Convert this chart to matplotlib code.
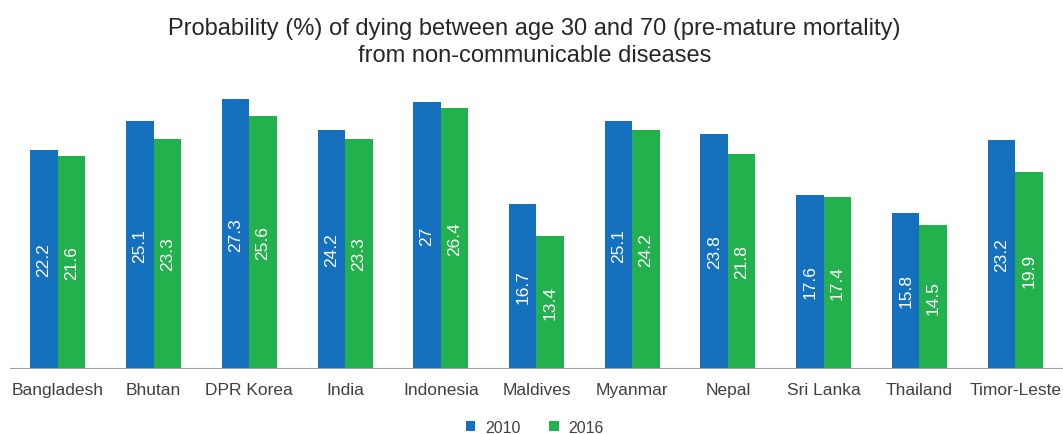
import matplotlib.pyplot as plt
import numpy as np

plt.rcParams['font.family'] = ['Liberation Sans', 'DejaVu Sans']

countries = ['Bangladesh', 'Bhutan', 'DPR Korea', 'India', 'Indonesia', 'Maldives',
             'Myanmar', 'Nepal', 'Sri Lanka', 'Thailand', 'Timor-Leste']
y2010 = [22.2, 25.1, 27.3, 24.2, 27, 16.7, 25.1, 23.8, 17.6, 15.8, 23.2]
y2016 = [21.6, 23.3, 25.6, 23.3, 26.4, 13.4, 24.2, 21.8, 17.4, 14.5, 19.9]
labels2010 = ['22.2', '25.1', '27.3', '24.2', '27', '16.7', '25.1', '23.8', '17.6', '15.8', '23.2']
labels2016 = ['21.6', '23.3', '25.6', '23.3', '26.4', '13.4', '24.2', '21.8', '17.4', '14.5', '19.9']

blue = '#1570BE'
green = '#22B14C'
txt = '#404040'

fig = plt.figure(figsize=(10.63, 4.35), dpi=100)
ax = fig.add_axes([0.0094, 0.152, 0.9906, 0.678])

x = np.arange(len(countries))
w = 0.287
b1 = ax.bar(x - w / 2, y2010, w, color=blue, label='2010')
b2 = ax.bar(x + w / 2, y2016, w, color=green, label='2016')

# value labels, rotated, in the middle of each bar
for bars, labs in [(b1, labels2010), (b2, labels2016)]:
    for r, lab in zip(bars, labs):
        ax.text(r.get_x() + r.get_width() / 2, r.get_height() / 2, lab,
                rotation=90, ha='center', va='center', color='white', fontsize=12.5)

ax.set_xlim(-0.5, len(countries) - 0.5)
ax.set_ylim(0, 30)
ax.set_xticks(x)
ax.set_xticklabels(countries, fontsize=12.5, color=txt)
ax.tick_params(axis='x', length=0, pad=10)
ax.set_yticks([])
for s in ['top', 'right', 'left']:
    ax.spines[s].set_visible(False)
ax.spines['bottom'].set_color('#A0A0A0')

fig.suptitle('Probability (%) of dying between age 30 and 70 (pre-mature mortality)\nfrom non-communicable diseases',
             x=0.503, y=0.958, fontsize=17, color='#262626', linespacing=1.28)

fig.legend(loc='lower center', bbox_to_anchor=(0.503, -0.035), ncol=2, frameon=False,
           fontsize=11.5, handlelength=0.6, handleheight=0.6, handletextpad=0.6,
           columnspacing=1.8, labelcolor=txt)

fig.savefig('out.png', dpi=100)
